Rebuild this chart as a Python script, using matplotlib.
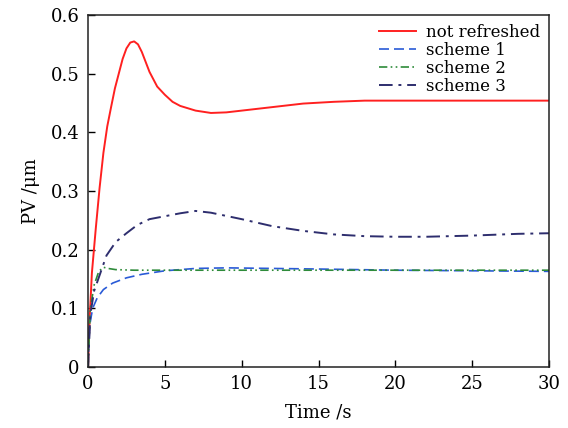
import matplotlib
matplotlib.use('Agg')
import matplotlib.pyplot as plt

# Data
t_nr = [0, 0.1, 0.25, 0.5, 0.75, 1.0, 1.25, 1.5, 1.75, 2.0, 2.25, 2.5, 2.75, 3.0, 3.25, 3.5, 3.75, 4.0, 4.5,
        5.0, 5.5, 6, 7, 8, 9, 10, 12, 14, 16, 18, 20, 25, 30]
pv_nr = [0, 0.08, 0.16, 0.235, 0.305, 0.365, 0.41, 0.443, 0.475, 0.50, 0.525, 0.543, 0.553, 0.555, 0.550, 0.537,
         0.52, 0.503, 0.478, 0.464, 0.452, 0.445, 0.437, 0.433, 0.434, 0.437, 0.443, 0.449, 0.452, 0.454, 0.454,
         0.454, 0.454]

t_s1 = [0, 0.1, 0.3, 0.6, 1.0, 1.6, 2.5, 3.5, 5, 7, 9, 12, 15, 20, 25, 30]
pv_s1 = [0, 0.07, 0.10, 0.118, 0.132, 0.143, 0.152, 0.158, 0.164, 0.168, 0.169, 0.168, 0.167, 0.165, 0.164, 0.163]

t_s2 = [0, 0.15, 0.4, 0.7, 1.0, 1.3, 1.8, 3, 5, 8, 12, 20, 30]
pv_s2 = [0, 0.10, 0.14, 0.163, 0.170, 0.168, 0.166, 0.165, 0.165, 0.165, 0.165, 0.165, 0.165]

t_s3 = [0, 0.15, 0.4, 0.8, 1.2, 1.8, 2.5, 3.2, 4.0, 5, 6, 7, 8, 10, 12, 14, 16, 18, 20, 22, 25, 28, 30]
pv_s3 = [0, 0.09, 0.13, 0.16, 0.19, 0.213, 0.228, 0.242, 0.252, 0.257, 0.262, 0.266, 0.263, 0.252, 0.240, 0.232,
         0.226, 0.223, 0.222, 0.222, 0.224, 0.227, 0.228]

x_ticks = [0, 5, 10, 15, 20, 25, 30]
y_ticks = [0, 0.1, 0.2, 0.3, 0.4, 0.5, 0.6]
y_labels = ["0", "0.1", "0.2", "0.3", "0.4", "0.5", "0.6"]

plt.rcParams['font.family'] = ['DejaVu Serif']

fig = plt.figure(figsize=(5.68, 4.28), dpi=100)
ax = fig.add_axes([0.155, 0.1425, 0.8115, 0.8225])

ax.plot(t_nr, pv_nr, color="#ff2020", lw=1.4, label="not refreshed")
ax.plot(t_s1, pv_s1, color="#2a5bd7", lw=1.2, dashes=(6, 3), label="scheme 1")
ax.plot(t_s2, pv_s2, color="#2e8b3a", lw=1.2, dashes=(5, 2, 1, 2, 1, 2), label="scheme 2")
ax.plot(t_s3, pv_s3, color="#2e2e6e", lw=1.4, dashes=(7, 3, 1.5, 3), label="scheme 3")

ax.set_xlim(0, 30)
ax.set_ylim(0, 0.6)
ax.set_xticks(x_ticks)
ax.set_yticks(y_ticks)
ax.set_yticklabels(y_labels)
ax.tick_params(direction="in", length=5, width=1, labelsize=13, top=False, right=False, pad=6)
for s in ax.spines.values():
    s.set_linewidth(1.1)
    s.set_color("#222222")

ax.set_xlabel("Time /s", fontsize=13, labelpad=7)
ax.set_ylabel("PV /μm", fontsize=13, labelpad=8)

ax.legend(loc="upper right", frameon=False, fontsize=12, handlelength=2.2, labelspacing=0.05,
          borderaxespad=0.15, handletextpad=0.6)

fig.savefig("out.png", dpi=100)
